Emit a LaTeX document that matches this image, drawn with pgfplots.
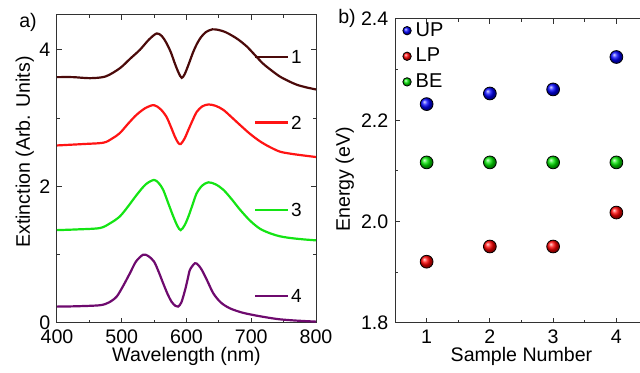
\documentclass[border=0pt]{standalone}
\usepackage{fontspec}
\setmainfont{Liberation Sans}
\usepackage{pgfplots}
\pgfplotsset{compat=1.18}
\definecolor{c1}{RGB}{75,10,10}
\definecolor{c2}{RGB}{255,20,20}
\definecolor{c3}{RGB}{20,228,20}
\definecolor{c4}{RGB}{110,10,110}
\definecolor{axc}{RGB}{50,50,50}
\begin{document}
\fontsize{9.5pt}{11pt}\selectfont
\begin{tikzpicture}
\useasboundingbox (0pt,0pt) rectangle (320pt,186.5pt);
\pgfplotsset{every axis/.style={
  scale only axis,
  axis line style={axc,line width=0.5pt},
  tick style={axc,line width=0.5pt},
  major tick length=2.5pt, minor tick length=1.5pt,
  tick align=inside,
  /pgf/number format/assume math mode=true,
  tick label style={font=\fontsize{9.8pt}{11pt}\selectfont},
  label style={font=\fontsize{9.8pt}{11pt}\selectfont},
}}
% Left panel
\begin{axis}[
  at={(28.5pt,25pt)}, anchor=south west,
  width=129.5pt, height=154pt,
  xmin=400, xmax=800, ymin=0, ymax=4.51,
  xtick={400,500,600,700,800}, minor x tick num=1,
  ytick={0,2,4}, minor y tick num=1,
  xlabel={Wavelength (nm)},
  xlabel style={at={(axis description cs:0.5,0)}, anchor=north, yshift=-9pt},
  ylabel={Extinction (Arb. Units)},
  ylabel style={at={(axis description cs:-0.124,0.555)}, anchor=center},
  every axis plot/.append style={line width=1.1pt, smooth, tension=0.5},
  clip=true,
]
\addplot[c1] coordinates {(400,3.60)(425,3.60)(451,3.585)(475,3.61)(497,3.73)(513,3.87)(528,4.00)(542,4.15)(554,4.24)(562,4.20)(569,4.10)(576,3.96)(582,3.80)(588,3.66)(592.6,3.59)(597,3.64)(603,3.78)(610,3.96)(615.7,4.08)(622,4.18)(630,4.26)(640,4.30)(650,4.29)(660,4.26)(670,4.21)(680,4.15)(693,4.05)(705,3.93)(718,3.80)(731,3.70)(744,3.61)(757,3.545)(770,3.49)(785,3.45)(800,3.42)};
\addplot[c2] coordinates {(400,2.60)(440,2.62)(471.6,2.64)(485,2.70)(497,2.78)(510,2.92)(523,3.05)(537,3.15)(549.8,3.19)(560,3.13)(569,3.02)(576,2.87)(582,2.73)(587,2.64)(591,2.62)(597,2.70)(603,2.83)(610,2.98)(615.7,3.09)(624,3.17)(633.7,3.20)(645,3.18)(657,3.12)(670,3.01)(682.6,2.90)(698,2.77)(713.5,2.66)(728,2.58)(744,2.51)(760,2.48)(775,2.46)(800,2.43)};
\addplot[c3] coordinates {(400,1.36)(430,1.37)(466,1.39)(482,1.46)(497,1.56)(510,1.71)(523,1.875)(537,2.03)(549.8,2.095)(557,2.05)(564,1.95)(572,1.75)(579.6,1.56)(586,1.42)(591,1.36)(597,1.43)(603,1.56)(610,1.75)(615.7,1.90)(624,2.01)(633.7,2.06)(645,2.03)(657,1.95)(670,1.81)(682.6,1.66)(698,1.50)(713.5,1.38)(730,1.31)(744,1.27)(760,1.245)(780,1.225)(800,1.21)};
\addplot[c4] coordinates {(400,0.24)(430,0.245)(466,0.26)(480,0.30)(492,0.385)(502,0.54)(512.7,0.73)(522,0.90)(533,1.00)(541,0.98)(549.8,0.90)(557,0.75)(564,0.58)(571,0.42)(577,0.31)(583,0.25)(587,0.24)(592,0.30)(597.7,0.48)(602,0.65)(605.4,0.78)(613,0.875)(618,0.85)(623.5,0.78)(632,0.62)(641.4,0.435)(653,0.30)(667,0.215)(685,0.155)(703,0.117)(725,0.08)(744,0.054)(770,0.035)(800,0.02)};
% inline legend
\addplot[c1, sharp plot] coordinates {(706,3.90)(757,3.90)};
\addplot[c2, sharp plot] coordinates {(706,2.935)(757,2.935)};
\addplot[c3, sharp plot] coordinates {(706,1.656)(757,1.656)};
\addplot[c4, sharp plot] coordinates {(706,0.396)(757,0.396)};
\node[anchor=west, inner sep=0pt] at (axis cs:761,3.90) {1};
\node[anchor=west, inner sep=0pt] at (axis cs:761,2.935) {2};
\node[anchor=west, inner sep=0pt] at (axis cs:761,1.656) {3};
\node[anchor=west, inner sep=0pt] at (axis cs:761,0.396) {4};
\end{axis}
\node[font=\fontsize{9.8pt}{11pt}\selectfont] at (14pt,175.5pt) {a)};
% Right panel
\begin{axis}[
  at={(197.5pt,25pt)}, anchor=south west,
  width=126.5pt, height=152pt,
  xmin=0.5, xmax=4.5, ymin=1.8, ymax=2.4,
  xtick={1,2,3,4}, minor x tick num=1,
  ytick={1.8,2.0,2.2,2.4}, minor y tick num=1,
  yticklabel style={/pgf/number format/.cd, fixed, fixed zerofill, precision=1},
  xlabel={Sample Number},
  xlabel style={at={(axis description cs:0.5,0)}, anchor=north, yshift=-9pt},
  ylabel={Energy (eV)},
  ylabel style={at={(axis description cs:-0.198,0.472)}, anchor=center},
  legend style={at={(axis description cs:0.02,1.01)}, anchor=north west, draw=none, fill=none,
    font=\fontsize{10pt}{11pt}\selectfont, row sep=0.5pt, inner sep=1pt,
    /tikz/every even column/.append style={column sep=2pt}},
  legend image code/.code={\pgfplotsset{mark size=2.1pt}\draw[#1] plot coordinates {(0.15cm,0cm)};},
  legend cell align=left,
  clip=false,
]
\addplot[only marks, mark=ball, mark size=3.2pt, mark options={draw=none}, ball color=blue] coordinates {(1,2.232)(2,2.253)(3,2.261)(4,2.325)};
\addlegendentry{UP}
\addplot[only marks, mark=ball, mark size=3.2pt, mark options={draw=none}, ball color=red] coordinates {(1,1.921)(2,1.951)(3,1.951)(4,2.018)};
\addlegendentry{LP}
\addplot[only marks, mark=ball, mark size=3.2pt, mark options={draw=none}, ball color=green!90!black] coordinates {(1,2.117)(2,2.117)(3,2.117)(4,2.117)};
\addlegendentry{BE}
\end{axis}
\node[font=\fontsize{9.8pt}{11pt}\selectfont] at (173.5pt,177.5pt) {b)};
\end{tikzpicture}
\end{document}
